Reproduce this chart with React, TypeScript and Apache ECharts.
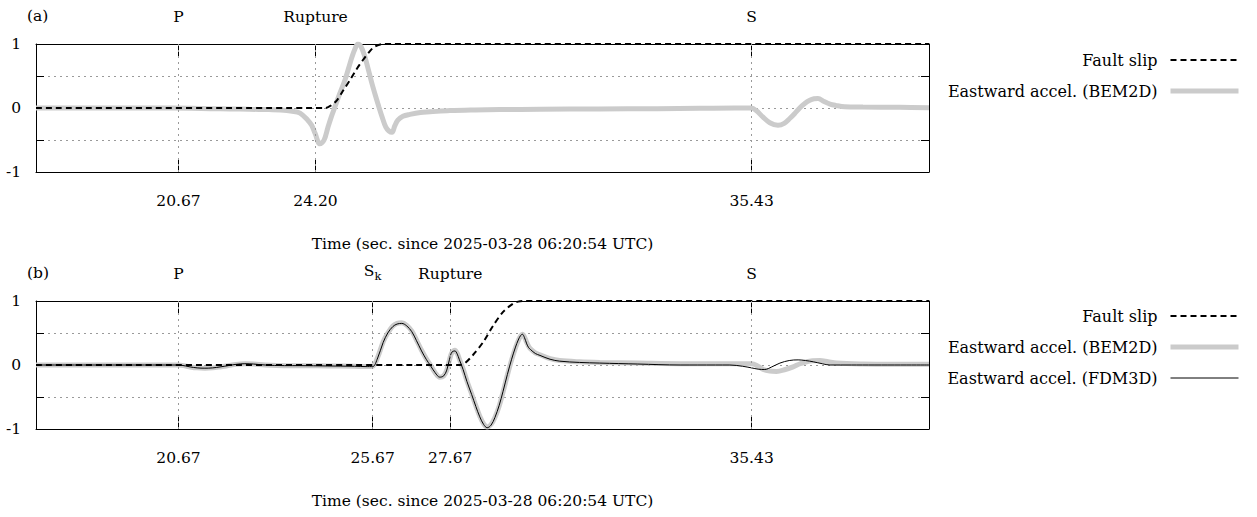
import React, { useEffect, useRef } from "react";
import * as echarts from "echarts";

const FONT = "'DejaVu Serif', serif";

// ---------- Panel (a) ----------
const aTicks = [20.67, 24.2, 35.43];
const aTopNames = ["P", "Rupture", "S"];

const aSlipTime = [17, 24.0, 24.2, 24.45, 24.6, 24.75, 24.92, 25.09, 25.25, 25.42, 25.56, 25.68, 25.8, 25.94, 26.2, 27, 40];
const aSlip = [0, 0, 0, 0, 0.04, 0.12, 0.28, 0.44, 0.6, 0.75, 0.86, 0.94, 0.98, 1, 1, 1, 1];

const aBemTime = [17, 20.0, 21.0, 21.5, 22.0, 22.5, 23.0, 23.3, 23.6, 23.8, 24.0, 24.1, 24.19, 24.31, 24.42, 24.52, 24.61, 24.7, 24.82, 24.96, 25.05, 25.14, 25.22, 25.29, 25.37, 25.47, 25.56, 25.65, 25.74, 25.83, 25.92, 26.01, 26.09, 26.17, 26.24, 26.32, 26.45, 26.63, 26.9, 27.15, 27.66, 28.3, 28.95, 30.0, 31.5, 33.0, 34.1, 35.0, 35.43, 35.55, 35.72, 35.9, 36.11, 36.27, 36.42, 36.55, 36.67, 36.8, 36.93, 37.04, 37.14, 37.3, 37.45, 37.6, 37.83, 38.3, 39.25, 40];
const aBem = [0, 0, -0.005, -0.01, -0.015, -0.02, -0.025, -0.03, -0.05, -0.08, -0.19, -0.27, -0.4, -0.56, -0.5, -0.3, -0.13, 0.02, 0.22, 0.44, 0.62, 0.8, 0.93, 1.0, 0.96, 0.8, 0.6, 0.39, 0.2, 0.02, -0.15, -0.3, -0.36, -0.38, -0.28, -0.19, -0.13, -0.1, -0.07, -0.06, -0.04, -0.03, -0.025, -0.02, -0.015, -0.01, -0.005, 0, 0, -0.04, -0.14, -0.23, -0.27, -0.24, -0.16, -0.08, 0, 0.07, 0.12, 0.145, 0.15, 0.1, 0.06, 0.04, 0.02, 0.015, 0.01, 0.005];

// ---------- Panel (b) ----------
const bTicks = [20.67, 25.67, 27.67, 35.43];
const bTopNames = ["P", "Sk", "Rupture", "S"];

const bSlipTime = [17, 27.5, 27.92, 28.05, 28.26, 28.52, 28.78, 29.03, 29.29, 29.42, 29.55, 29.8, 40];
const bSlip = [0, 0, 0, 0.03, 0.16, 0.36, 0.62, 0.83, 0.96, 0.99, 1, 1, 1];

const bBemTime = [17, 20.0, 20.67, 20.85, 20.97, 21.15, 21.35, 21.55, 21.74, 21.95, 22.15, 22.38, 22.6, 22.9, 23.4, 23.8, 24.5, 25.2, 25.5, 25.67, 25.8, 25.94, 26.06, 26.19, 26.3, 26.42, 26.55, 26.68, 26.8, 26.93, 27.05, 27.16, 27.28, 27.4, 27.5, 27.58, 27.65, 27.71, 27.79, 27.85, 27.9, 28.0, 28.1, 28.22, 28.33, 28.43, 28.53, 28.62, 28.72, 28.82, 28.93, 29.03, 29.14, 29.25, 29.35, 29.42, 29.48, 29.53, 29.58, 29.64, 29.69, 29.74, 29.86, 29.98, 30.24, 30.49, 31.0, 31.52, 32.5, 33.6, 34.9, 35.43, 35.6, 35.73, 35.9, 36.07, 36.3, 36.5, 36.68, 36.85, 37.0, 37.19, 37.4, 37.62, 38.3, 39.0, 40];
const bBem = [0, 0, 0, -0.015, -0.03, -0.045, -0.05, -0.045, -0.03, -0.01, 0.01, 0.02, 0.015, 0, -0.01, -0.01, -0.015, -0.02, -0.025, -0.02, 0.12, 0.36, 0.5, 0.61, 0.65, 0.66, 0.62, 0.53, 0.39, 0.23, 0.1, 0, -0.12, -0.19, -0.17, -0.08, 0.08, 0.19, 0.23, 0.18, 0.1, -0.06, -0.25, -0.45, -0.64, -0.8, -0.92, -0.97, -0.93, -0.82, -0.64, -0.42, -0.16, 0.08, 0.27, 0.38, 0.45, 0.48, 0.44, 0.35, 0.29, 0.25, 0.19, 0.16, 0.1, 0.07, 0.05, 0.04, 0.03, 0.02, 0.02, 0.02, -0.02, -0.07, -0.095, -0.1, -0.07, -0.03, 0.02, 0.05, 0.065, 0.07, 0.05, 0.03, 0.015, 0.01, 0.01];

const bFdmTime = [17, 20.0, 20.67, 20.85, 20.97, 21.15, 21.35, 21.55, 21.74, 21.95, 22.15, 22.38, 22.6, 22.9, 23.4, 23.8, 24.5, 25.2, 25.5, 25.67, 25.8, 25.94, 26.06, 26.19, 26.3, 26.42, 26.55, 26.68, 26.8, 26.93, 27.05, 27.16, 27.28, 27.4, 27.5, 27.58, 27.65, 27.71, 27.79, 27.85, 27.9, 28.0, 28.1, 28.22, 28.33, 28.43, 28.53, 28.62, 28.72, 28.82, 28.93, 29.03, 29.14, 29.25, 29.35, 29.42, 29.48, 29.53, 29.58, 29.64, 29.69, 29.74, 29.86, 29.98, 30.24, 30.49, 31.0, 31.52, 32.5, 33.59, 34.5, 34.87, 35.2, 35.43, 35.6, 35.77, 35.95, 36.16, 36.4, 36.63, 36.82, 37.02, 37.25, 37.45, 38.0, 40];
const bFdm = [0, 0, 0, -0.015, -0.03, -0.045, -0.05, -0.045, -0.03, -0.01, 0.01, 0.02, 0.015, 0, -0.01, -0.01, -0.015, -0.02, -0.025, -0.025, 0.11, 0.35, 0.5, 0.6, 0.64, 0.65, 0.61, 0.52, 0.38, 0.22, 0.09, -0.01, -0.12, -0.19, -0.17, -0.08, 0.09, 0.2, 0.22, 0.17, 0.09, -0.07, -0.26, -0.46, -0.65, -0.81, -0.93, -0.98, -0.94, -0.82, -0.63, -0.41, -0.15, 0.09, 0.28, 0.39, 0.46, 0.48, 0.43, 0.33, 0.27, 0.24, 0.18, 0.15, 0.09, 0.06, 0.04, 0.03, 0.015, 0.0, 0.0, 0, -0.02, -0.045, -0.065, -0.07, -0.03, 0.03, 0.07, 0.08, 0.07, 0.05, 0.02, 0, 0, 0];

const SLIP = "Fault slip";
const BEM = "Eastward accel. (BEM2D)";
const FDM = "Eastward accel. (FDM3D)";
const XNAME = "Time (sec. since 2025-03-28 06:20:54 UTC)";

const zip = (t: number[], v: number[]) => t.map((x, i) => [x, v[i]]);

export default function App() {
  const ref = useRef<HTMLDivElement>(null);
  useEffect(() => {
    document.body.style.margin = "0";
    const chart = echarts.init(ref.current!, null, { renderer: "svg" });
    const txt = { fontFamily: FONT, fontSize: 15.5, color: "#000" };
    const grids = [
      { left: 36, top: 44, width: 893, height: 128 },
      { left: 36, top: 301, width: 893, height: 128 },
    ];
    const ticksList = [aTicks, bTicks];
    const namesList = [aTopNames, bTopNames];
    const xAxis: any[] = [];
    const yAxis: any[] = [];
    [0, 1].forEach((i) => {
      const ticks = ticksList[i];
      const names = namesList[i];
      xAxis.push({
        type: "value", gridIndex: i, min: 17, max: 40, position: "bottom",
        axisLine: { show: true, onZero: false, lineStyle: { color: "#000", width: 1 } },
        axisTick: { show: true, inside: true, length: 12, customValues: ticks, lineStyle: { color: "#000", width: 1 } },
        axisLabel: { customValues: ticks, formatter: (v: number) => v.toFixed(2), margin: 21, ...txt },
        splitLine: { show: false },
        name: XNAME, nameLocation: "middle", nameGap: 64, nameTextStyle: txt,
      });
      xAxis.push({
        type: "value", gridIndex: i, min: 17, max: 40, position: "top",
        axisLine: { show: true, onZero: false, lineStyle: { color: "#000", width: 1 } },
        axisTick: { show: true, inside: true, length: 12, customValues: ticks, lineStyle: { color: "#000", width: 1 } },
        axisLabel: {
          customValues: ticks, margin: 19, ...txt,
          formatter: (v: number) => {
            let idx = 0;
            ticks.forEach((t, j) => { if (Math.abs(t - v) < 1e-6) idx = j; });
            const n = names[idx];
            return n === "Sk" ? "{s|S}{k|k}" : n;
          },
          rich: {
            s: { fontFamily: FONT, fontSize: 15.5, color: "#000" },
            k: { fontFamily: FONT, fontSize: 11.5, color: "#000", padding: [11, 0, 0, 0] },
          },
        },
        splitLine: { show: false },
      });
      yAxis.push({
        type: "value", gridIndex: i, min: -1, max: 1, interval: 0.5, position: "left",
        axisLine: { show: true, onZero: false, lineStyle: { color: "#000", width: 1 } },
        axisTick: { show: true, inside: true, length: 8, lineStyle: { color: "#000" } },
        axisLabel: { margin: 15, ...txt, formatter: (v: number) => (v === 1 ? "1" : v === 0 ? "0" : v === -1 ? "-1" : "") },
        splitLine: { show: true, lineStyle: { type: [2, 4], color: "#9a9a9a", width: 1 } },
      });
      yAxis.push({
        type: "value", gridIndex: i, min: -1, max: 1, interval: 0.5, position: "right",
        axisLine: { show: true, onZero: false, lineStyle: { color: "#000", width: 1 } },
        axisTick: { show: true, inside: true, length: 8, lineStyle: { color: "#000" } },
        axisLabel: { show: false },
        splitLine: { show: false },
      });
    });

    const vLines = (ticks: number[]) => ({
      silent: true, symbol: ["none", "none"], label: { show: false },
      lineStyle: { type: [2, 4], color: "#9a9a9a", width: 1 },
      emphasis: { disabled: true },
      data: ticks.map((v) => ({ xAxis: v })),
    });

    const gray = { color: "#cbcbcb", width: 5 };
    const dash = { color: "#000", width: 2, type: [6, 4] };
    const thin = { color: "#000", width: 1 };

    const series: any[] = [
      { name: BEM, type: "line", xAxisIndex: 0, yAxisIndex: 0, symbol: "none", smooth: 0.35, lineStyle: gray, itemStyle: { color: "#cbcbcb" }, data: zip(aBemTime, aBem), markLine: vLines(aTicks), z: 2 },
      { name: SLIP, type: "line", xAxisIndex: 0, yAxisIndex: 0, symbol: "none", smooth: 0.3, lineStyle: dash, itemStyle: { color: "#000" }, data: zip(aSlipTime, aSlip), z: 3 },
      { name: BEM, type: "line", xAxisIndex: 2, yAxisIndex: 2, symbol: "none", smooth: 0.35, lineStyle: gray, itemStyle: { color: "#cbcbcb" }, data: zip(bBemTime, bBem), markLine: vLines(bTicks), z: 2 },
      { name: SLIP, type: "line", xAxisIndex: 2, yAxisIndex: 2, symbol: "none", smooth: 0.3, lineStyle: dash, itemStyle: { color: "#000" }, data: zip(bSlipTime, bSlip), z: 3 },
      { name: FDM, type: "line", xAxisIndex: 2, yAxisIndex: 2, symbol: "none", smooth: 0.35, lineStyle: thin, itemStyle: { color: "#000" }, data: zip(bFdmTime, bFdm), z: 4 },
    ];

    const legendItems: Record<string, any> = {
      [SLIP]: { name: SLIP, lineStyle: { color: "#000", width: 2, type: [6, 4] } },
      [BEM]: { name: BEM, lineStyle: { color: "#cbcbcb", width: 5, type: "solid" } },
      [FDM]: { name: FDM, lineStyle: { color: "#000", width: 1, type: "solid" } },
    };

    const legendBase = {
      orient: "vertical", right: 16, align: "right", itemWidth: 68, itemHeight: 14, itemGap: 15,
      padding: 0, selectedMode: false, itemStyle: { opacity: 0 },
      textStyle: { ...txt, fontSize: 16, padding: [0, 8, 0, 0] },
    };

    chart.setOption({
      animation: false,
      backgroundColor: "#fff",
      title: [
        { text: "(a)", left: 22, top: 3, textStyle: { ...txt, fontWeight: "normal" } },
        { text: "(b)", left: 22, top: 260, textStyle: { ...txt, fontWeight: "normal" } },
      ],
      legend: [
        { ...legendBase, top: 52, data: [legendItems[SLIP], legendItems[BEM]] },
        { ...legendBase, top: 308, data: [legendItems[SLIP], legendItems[BEM], legendItems[FDM]] },
      ],
      grid: grids,
      xAxis,
      yAxis,
      series,
    });
    return () => chart.dispose();
  }, []);
  return <div ref={ref} style={{ width: 1257, height: 517 }} />;
}
